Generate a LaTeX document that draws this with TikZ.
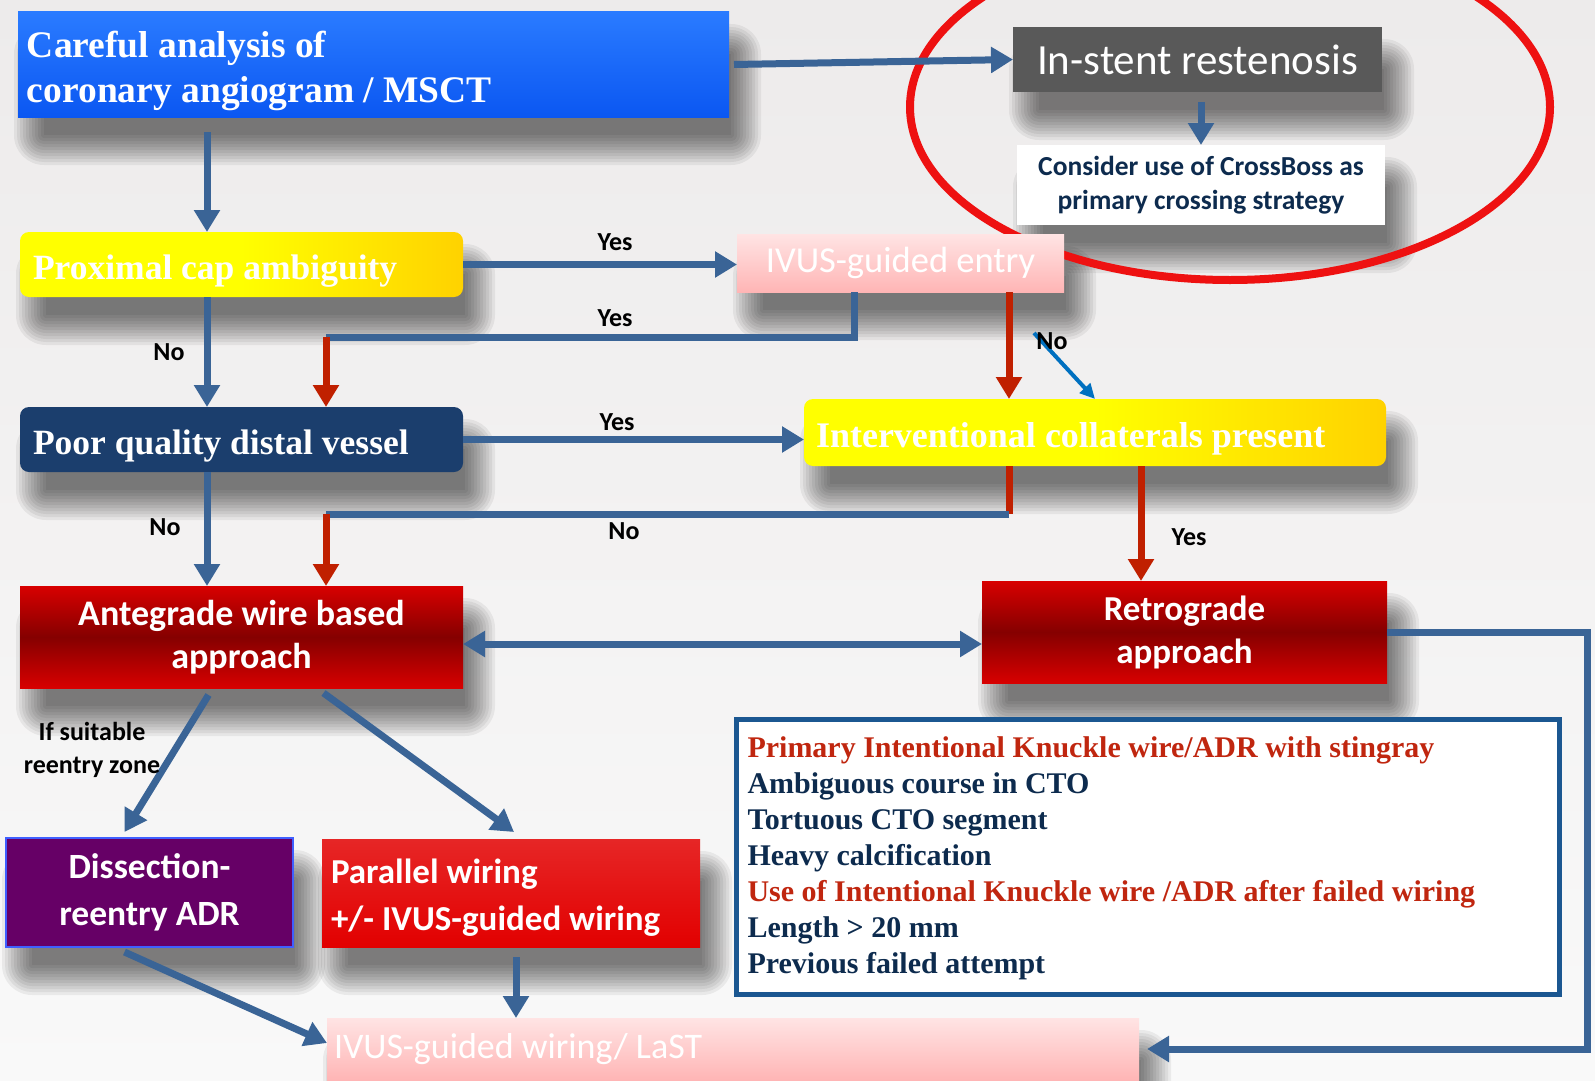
\documentclass[tikz,border=0pt]{standalone}
\usepackage{fontspec}
\setmainfont{Liberation Serif}
\newfontfamily\calibri{Carlito}
\usetikzlibrary{arrows.meta}

\definecolor{bgtop}{HTML}{EDEBEB}
\definecolor{bgbot}{HTML}{F9F9F9}
\definecolor{carefultop}{HTML}{2A7BFF}
\definecolor{carefulbot}{HTML}{0B57F2}
\definecolor{greybox}{HTML}{595959}
\definecolor{yellowbox}{HTML}{FFFF00}
\definecolor{yellowend}{HTML}{FFD200}
\definecolor{navybox}{HTML}{1B3E6D}
\definecolor{darkred}{HTML}{850000}
\definecolor{rededge}{HTML}{D80000}
\definecolor{purplebox}{HTML}{660066}
\definecolor{purpleedge}{HTML}{3F5FFF}
\definecolor{parred}{HTML}{E20000}
\definecolor{pinkbox}{HTML}{FFB5B5}
\definecolor{pinklight}{HTML}{FFE4E4}
\definecolor{ringred}{HTML}{EE1111}
\definecolor{infoblue}{HTML}{1B5791}
\definecolor{arrowblue}{HTML}{3A6496}
\definecolor{arrowred}{HTML}{C02000}
\definecolor{lightblue}{HTML}{0070C0}
\definecolor{navytext}{HTML}{0D2B4E}
\definecolor{redtext}{HTML}{C0260F}

\pgfdeclarelayer{bg}
\pgfdeclarelayer{shade}
\pgfsetlayers{bg,shade,main}

% soft grey shadow under a box
\newcommand{\softshadow}[1]{%
  \foreach \e in {0,3,...,30}
    \fill[black, opacity=0.06, rounded corners=\e pt]
      ([xshift={(26-\e)*1pt}, yshift={(-42+\e)*1pt}]#1.north west) rectangle
      ([xshift={(2+\e)*1pt}, yshift={(-18-\e)*1pt}]#1.south east);
}

\tikzset{
  box/.style={inner sep=0pt, outer sep=0pt, anchor=north west},
  serifbox/.style={box, text=white, align=flush left, inner xsep=12pt,
    font=\bfseries\fontsize{35.5}{42}\selectfont, execute at begin node={\rule{0pt}{1.06em}}},
  sansbox/.style={box, text=white, align=center,
    font=\calibri\bfseries\fontsize{35}{45}\selectfont},
  lowered/.style={execute at begin node={\rule{0pt}{#1}}},
  lowered/.default=0.95em,
  bline/.style={draw=arrowblue, line width=7pt},
  rline/.style={draw=arrowred, line width=7pt},
  barrow/.style={bline, -{Triangle[length=22pt,width=25pt]}},
  rarrow/.style={rline, -{Triangle[length=22pt,width=25pt]}},
  lbarrow/.style={draw=lightblue, line width=4pt, -{Triangle[length=15pt,width=14pt]}},
  lbl/.style={font=\calibri\bfseries\fontsize{26}{33}\selectfont, text=black}
}

\begin{document}
\begin{tikzpicture}[x=1pt,y=-1pt]
\useasboundingbox (0,0) rectangle (1595,1081);
\clip (0,0) rectangle (1595,1081);
\begin{pgfonlayer}{bg}
  \fill[top color=bgtop, bottom color=bgbot] (0,0) rectangle (1595,1081);
\end{pgfonlayer}

% columns of the vertical connectors
\coordinate (colA) at (207,0);
\coordinate (colB) at (326,0);
\coordinate (colC) at (1009,0);
\coordinate (colD) at (1141,0);
\coordinate (colE) at (1587,0);
\coordinate (colF) at (516,0);
\coordinate (colG) at (854,0);
\coordinate (colH) at (1095,0);

% top row
\node[serifbox, minimum width=711pt, minimum height=105pt, text width=693pt, inner xsep=9pt,
  font=\bfseries\fontsize{37.5}{45}\selectfont, top color=carefultop, bottom color=carefulbot]
  (careful) at (18,12) {Careful analysis of\\coronary angiogram / MSCT};
\node[sansbox, minimum width=369pt, minimum height=65pt, fill=greybox,
  font=\calibri\fontsize{43}{48}\selectfont] (instent) at (1013,27) {In-stent restenosis};
\node[sansbox, minimum width=368pt, minimum height=80pt, fill=white, text=navytext,
  font=\calibri\bfseries\fontsize{27.5}{34}\selectfont] (consider) at (1017,145)
  {Consider use of CrossBoss as\\primary crossing strategy};
\draw[ringred, line width=8pt] (1230,107) ellipse [x radius=320pt, y radius=173pt];

% decision boxes
\node[serifbox, rounded corners=9pt, minimum width=443pt, minimum height=65pt, text width=417pt, inner xsep=13pt,
  left color=yellowbox, right color=yellowend, middle color=yellowbox] (prox) at (20,232) {Proximal cap ambiguity};
\node[sansbox, minimum width=327pt, minimum height=58pt, top color=pinklight, bottom color=pinkbox,
  font=\calibri\fontsize{36.5}{42}\selectfont] (ivus) at (737,234) {IVUS-guided entry};
\node[serifbox, rounded corners=9pt, minimum width=443pt, minimum height=65pt, text width=417pt, inner xsep=13pt,
  fill=navybox] (poor) at (20,407) {Poor quality distal vessel};
\node[serifbox, rounded corners=9pt, minimum width=582pt, minimum height=67pt, text width=558pt,
  left color=yellowbox, right color=yellowend, middle color=yellowbox,
  font=\bfseries\fontsize{36}{42}\selectfont] (interv) at (804,399) {Interventional collaterals present};

% approaches
\node[sansbox, lowered, minimum width=443pt, minimum height=102pt, top color=rededge, bottom color=rededge, middle color=darkred,
  font=\calibri\bfseries\fontsize{36}{43}\selectfont] (ante) at (20,586) {Antegrade wire based\\approach};
\node[sansbox, lowered=1.05em, minimum width=405pt, minimum height=102pt, top color=rededge, bottom color=rededge, middle color=darkred,
  font=\calibri\bfseries\fontsize{35}{43}\selectfont] (retro) at (982,581) {Retrograde\\approach};
\node[sansbox, lowered=1.1em, minimum width=287pt, minimum height=109pt, fill=purplebox, draw=purpleedge, line width=2pt,
  font=\calibri\bfseries\fontsize{35.5}{47}\selectfont] (diss) at (6,838) {Dissection-\\reentry ADR};
\node[sansbox, lowered, minimum width=378pt, minimum height=108pt, text width=360pt, inner xsep=9pt, align=flush left,
  top color=parred!85!white, bottom color=parred, font=\calibri\bfseries\fontsize{35}{47}\selectfont]
  (par) at (322,839) {Parallel wiring\\+/- IVUS-guided wiring};
\node[sansbox, minimum width=812pt, minimum height=62pt, text width=798pt, inner xsep=7pt, align=flush left,
  top color=pinklight, bottom color=pinkbox, font=\calibri\fontsize{36}{42}\selectfont] (last) at (327,1018)
  {IVUS-guided wiring/ LaST};

% criteria
\node[draw=infoblue, line width=5pt, fill=white, anchor=north west, minimum width=823pt, minimum height=275pt,
  text width=801pt, inner xsep=11pt, align=flush left, text=navytext,
  font=\bfseries\fontsize{30}{36}\selectfont, execute at begin node={\rule{0pt}{0.8em}}] (crit) at (734,717)
  {\textcolor{redtext}{Primary Intentional Knuckle wire/ADR with stingray}\\
   Ambiguous course in CTO\\
   Tortuous CTO segment\\
   Heavy calcification\\
   \textcolor{redtext}{Use of Intentional Knuckle wire /ADR after failed wiring}\\
   Length > 20 mm\\
   Previous failed attempt};

% shadows under the boxes
\begin{pgfonlayer}{shade}
  \foreach \b in {careful,instent,consider,prox,ivus,poor,interv,ante,retro,diss,par,last}
    {\softshadow{\b}}
\end{pgfonlayer}

% connectors, top
\draw[barrow] ([xshift=5pt]careful.east) -- (instent.west);
\draw[barrow] ([yshift=-10pt]instent.south -| consider.north) -- (consider.north);
\draw[barrow] ([yshift=-15pt]careful.south -| colA) -- (prox.north -| colA);
\draw[barrow] (prox.east) -- (prox.east -| ivus.west);
\node[lbl] (yes1) at (615,242) {Yes};
\draw[barrow] (prox.south -| colA) -- (poor.north -| colA);
\node[lbl] (no1) at (169,352) {No};

% IVUS entry
\coordinate (bend1) at (326,337);
\draw[bline] (ivus.south -| colG) |- (bend1);
\draw[rarrow] (bend1) -- (poor.north -| colB);
\node[lbl] (yes2) at (615,318) {Yes};
\draw[rarrow] (ivus.south -| colC) -- (interv.north -| colC);
\coordinate (nostart) at (1034,333);
\draw[lbarrow] (nostart) -- (interv.north -| colH);
\node[lbl] (no2) at (1052,341) {No};

% distal vessel and collaterals
\draw[barrow] (poor.east) -- (poor.east -| interv.west);
\node[lbl] (yes3) at (617,422) {Yes};
\draw[barrow] (poor.south -| colA) -- (ante.north -| colA);
\node[lbl] (no3) at (165,527) {No};
\coordinate (bend2) at (326,514);
\draw[rline] (interv.south -| colC) -- (bend2 -| colC);
\draw[bline] (bend2 -| colC) -- (bend2);
\draw[rarrow] (bend2) -- (ante.north -| colB);
\node[lbl] (no4) at (624,531) {No};
\draw[rarrow] (interv.south -| colD) -- (retro.north -| colD);
\node[lbl] (yes4) at (1189,537) {Yes};

% approaches
\coordinate (rowAR) at (0,644);
\draw[barrow, {Triangle[length=22pt,width=25pt]}-{Triangle[length=22pt,width=25pt]}]
  (ante.east |- rowAR) -- (retro.west |- rowAR);
\draw[barrow] (retro.east) -- (retro.east -| colE) |- ([xshift=8pt]last.east);
\draw[barrow] ([xshift=-33pt,yshift=-7pt]ante.south) -- ([xshift=-25pt,yshift=6pt]diss.north);
\node[lbl, align=center] (reentry) at (92,750) {If suitable\\reentry zone};
\draw[barrow] ([xshift=82pt,yshift=-5pt]ante.south) -- ([xshift=3pt,yshift=7pt]par.north);
\draw[barrow] ([yshift=-10pt]par.south -| colF) -- (last.north -| colF);
\draw[barrow] ([xshift=-25pt,yshift=-5pt]diss.south) -- ([yshift=6pt]last.west);
\end{tikzpicture}
\end{document}
